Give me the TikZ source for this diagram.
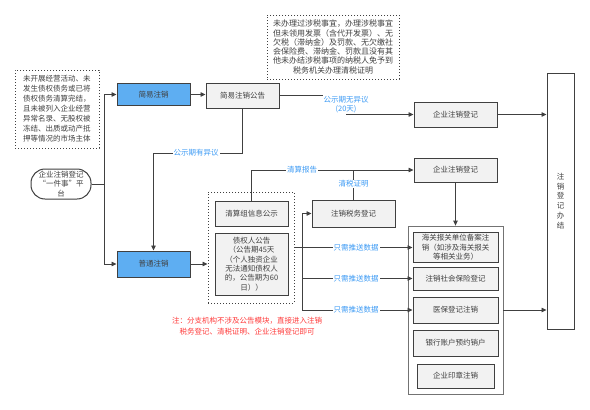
\documentclass[tikz,border=0pt]{standalone}
\usepackage{fontspec}
\setmainfont{Noto Sans CJK SC}
\usetikzlibrary{arrows.meta}
\definecolor{lc}{HTML}{404040}
\definecolor{bfill}{HTML}{F2F2F2}
\definecolor{blue1}{HTML}{5EAEF2}
\definecolor{lblue}{HTML}{3D9BF5}
\definecolor{redc}{HTML}{FF3B3B}
\definecolor{tc}{HTML}{404040}
\begin{document}
\begin{tikzpicture}[x=1pt,y=-1pt,
  font=\fontsize{7.5}{9.4}\selectfont,
  box/.style={draw=lc, line width=1pt, fill=bfill, text=tc, inner sep=1pt, align=center},
  bluebox/.style={box, fill=blue1},
  note/.style={draw=lc, dotted, line width=1pt, align=center, text=tc, inner sep=1pt},
  grp/.style={draw=black!55, line width=0.8pt, fill=white},
  conn/.style={draw=lc, line width=0.8pt},
  arr/.style={conn, -{Triangle[length=5pt,width=4.5pt]}},
  lab/.style={fill=white, text=lblue, inner sep=1pt, align=center},
]
\useasboundingbox[fill=white] (0,0) rectangle (590,410);

% left notes and platform
\node[note, minimum width=84pt, minimum height=78pt, font=\fontsize{7.5}{10}\selectfont] (note1) at (57,109)
  {未开展经营活动、未\\发生债权债务或已将\\债权债务清算完结，\\且未被列入企业经营\\异常名录、无股权被\\冻结、出质或动产抵\\押等情况的市场主体};
\node[box, fill=white, rounded corners=14pt, minimum width=60pt, minimum height=30pt, font=\fontsize{7.5}{9.6}\selectfont] (plat) at (61,184)
  {企业注销登记\\“一件事”平\\台};

% main boxes
\node[bluebox, minimum width=73pt, minimum height=22pt] (jianyi) at (153.5,94.5) {简易注销};
\node[box, minimum width=73pt, minimum height=25pt] (gonggao) at (242.5,95.5) {简易注销公告};
\node[note, minimum width=132pt, minimum height=64pt, font=\fontsize{8}{9.3}\selectfont] (note2) at (333,47)
  {未办理过涉税事宜，办理涉税事宜\\但未领用发票（含代开发票）、无\\欠税（滞纳金）及罚款、无欠缴社\\会保险费、滞纳金、罚款且没有其\\他未办结涉税事项的纳税人免予到\\税务机关办理清税证明};
\node[box, minimum width=83pt, minimum height=25pt] (qiye1) at (455.5,114.5) {企业注销登记};
\node[box, fill=white, minimum width=27pt, minimum height=256pt, font=\fontsize{7.5}{9.8}\selectfont] (banjie) at (560.5,201)
  {注\\销\\登\\记\\办\\结};

\node[bluebox, minimum width=73pt, minimum height=26pt] (putong) at (153.5,264) {普通注销};
\node[note, minimum width=86pt, minimum height=111pt] (grp1) at (251,247.5) {};
\node[box, minimum width=73pt, minimum height=25pt] (qingsuan) at (251.5,213.5) {清算组信息公示};
\node[box, minimum width=73pt, minimum height=62pt] (zhaiquan) at (251.5,264)
  {债权人公告\\（公告期45天\\（个人独资企业\\无法通知债权人\\的，公告期为60\\日））};
\node[box, minimum width=83pt, minimum height=24pt] (qiye2) at (455.5,170) {企业注销登记};
\node[box, minimum width=83pt, minimum height=27pt] (shuiwu) at (353.5,213.5) {注销税务登记};

\node[grp, minimum width=95pt, minimum height=168pt] (grp2) at (455.5,310) {};
\node[box, minimum width=85pt, minimum height=30pt] (haiguan) at (455.5,247.5)
  {海关报关单位备案注\\销（如涉及海关报关\\等相关业务）};
\node[box, minimum width=85pt, minimum height=23pt] (shebao) at (455.5,278.5) {注销社会保险登记};
\node[box, minimum width=85pt, minimum height=26pt] (yibao) at (455.5,310) {医保登记注销};
\node[box, minimum width=85pt, minimum height=26pt] (yinhang) at (455.5,343) {银行账户预约销户};
\node[box, minimum width=77pt, minimum height=24pt] (yinzhang) at (455.5,376) {企业印章注销};

\node[text=redc, align=center, font=\fontsize{7.5}{11}\selectfont] (red) at (247,326.5)
  {注：分支机构不涉及公告模块，直接进入注销\\税务登记、清税证明、企业注销登记即可};

% connectors
\coordinate (j1) at (104,184);
\draw[conn] (plat.east) -- (j1);
\draw[arr] (j1) |- (jianyi.west);
\draw[arr] (j1) |- (putong.west);
\draw[arr] (jianyi.east) -- (jianyi.east -| gonggao.west);

\coordinate (k1) at (346,95.5);
\coordinate (k2) at (346,114.5);
\draw[arr] (gonggao.east) -- (k1) -- (k2) -- (qiye1.west);
\node[lab] (l1) at (346,104.5) {公示期无异议\\(20天)};
\draw[arr] (qiye1.east) -- (qiye1.east -| banjie.west);

\coordinate (k3) at (153.5,153);
\draw[arr] (gonggao.south) |- (k3) -- (putong.north);
\node[lab] (l2) at (196,153) {公示期有异议};

\draw[arr] (putong.east) -- (putong.east -| grp1.west);

\draw[arr] (qingsuan.north) |- (qiye2.west);
\node[lab] (l3) at (302,170) {清算报告};
\coordinate (k4) at (353.5,170);
\draw[conn] (shuiwu.north) -- (k4);
\node[lab] (l4) at (353.5,184) {清税证明};

\coordinate (j2) at (302,247.5);
\draw[arr] (grp1.east) -- (haiguan.west);
\draw[arr] (j2) |- (shuiwu.west);
\draw[arr] (j2) |- (shebao.west);
\draw[arr] (j2) |- (yibao.west);
\node[lab] (l5) at (356,247.5) {只需推送数据};
\node[lab] (l6) at (356,278.5) {只需推送数据};
\node[lab] (l7) at (356,310) {只需推送数据};

\draw[arr] (qiye2.south) -- (grp2.north);
\draw[arr] (grp2.east) -- (grp2.east -| banjie.west);
\end{tikzpicture}
\end{document}
